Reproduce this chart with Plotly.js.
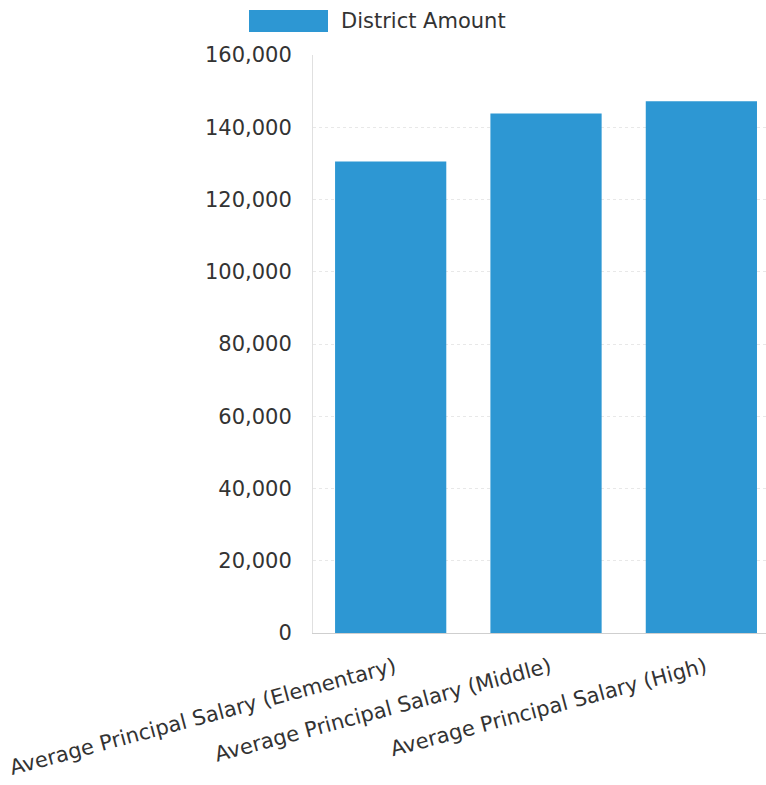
<!DOCTYPE html>
<html>
<head>
<meta charset="utf-8">
<script src="https://cdn.plot.ly/plotly-3.0.1.min.js"></script>
<style>html,body{margin:0;padding:0;background:#fff;}#chart{width:766px;height:785px;}</style>
</head>
<body>
<div id="chart"></div>
<script>
const categories = [
  "Average Principal Salary (Elementary)",
  "Average Principal Salary (Middle)",
  "Average Principal Salary (High)"
];
const districtAmount = [130500, 143800, 147200];
const seriesName = "District Amount";
const yTickValues = [0, 20000, 40000, 60000, 80000, 100000, 120000, 140000, 160000];

const barColor = "#2d97d3";
const fontFam = "DejaVu Sans, Verdana, sans-serif";

const trace = {
  type: "bar",
  name: seriesName,
  x: categories,
  y: districtAmount,
  marker: {color: barColor},
  hoverinfo: "x+y"
};

const layout = {
  width: 766,
  height: 785,
  margin: {l: 313, r: 0, t: 55, b: 152},
  paper_bgcolor: "#fff",
  plot_bgcolor: "#fff",
  font: {family: fontFam, size: 20, color: "#333"},
  showlegend: false,
  bargap: 0.284,
  xaxis: {
    type: "category",
    range: [-0.5, 2.416],
    tickangle: -15,
    showgrid: false,
    showline: true,
    linecolor: "#cfcfcf",
    linewidth: 1,
    ticks: "",
    ticklabelstandoff: 13,
    ticklabelshift: 4,
    tickfont: {family: fontFam, size: 21, color: "#333"},
    automargin: false
  },
  yaxis: {
    range: [0, 160000],
    tickvals: yTickValues,
    tickformat: ",d",
    showgrid: true,
    gridcolor: "#e8e8e8",
    griddash: "dot",
    gridwidth: 1,
    zeroline: false,
    showline: true,
    linecolor: "#e0e0e0",
    ticks: "",
    ticklabelstandoff: 16,
    tickfont: {family: fontFam, size: 21, color: "#333"},
    automargin: false
  },
  shapes: [{
    type: "rect", xref: "paper", yref: "paper",
    x0: (249 - 313) / 453, x1: (328 - 313) / 453,
    y0: (785 - 152 - 32) / 578, y1: (785 - 152 - 10) / 578,
    fillcolor: barColor, line: {width: 0}
  }],
  annotations: [{
    xref: "paper", yref: "paper",
    x: (339 - 313) / 453, y: (785 - 152 - 21) / 578,
    xanchor: "left", yanchor: "middle",
    text: seriesName, showarrow: false,
    font: {family: fontFam, size: 21, color: "#333"}
  }]
};

Plotly.newPlot("chart", [trace], layout, {displayModeBar: false, staticPlot: true});
</script>
</body>
</html>
